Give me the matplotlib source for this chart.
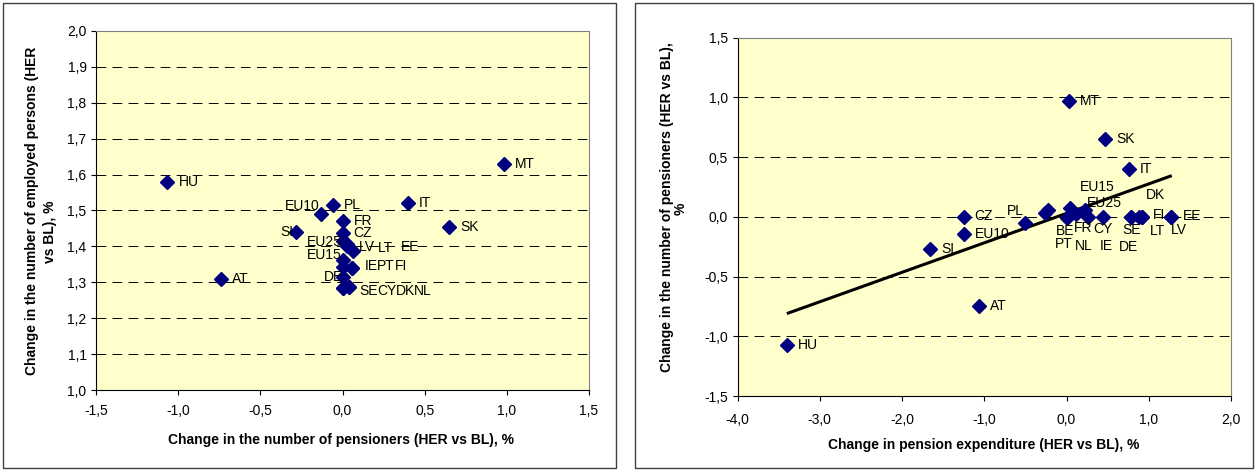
import matplotlib
matplotlib.use("Agg")
import matplotlib.pyplot as plt
from matplotlib.patches import Rectangle
from matplotlib.ticker import FuncFormatter, MultipleLocator

plt.rcParams["font.family"] = ["Liberation Sans", "DejaVu Sans"]
plt.rcParams["font.size"] = 10

# ---- Left panel: pensioners vs employed persons (HER vs BL, %) ----
left_countries = ["HU", "MT", "IT", "SK", "FR", "PL", "EU10", "SI", "CZ", "EU25",
                  "LV", "LT", "EE", "EU15", "IE", "PT", "FI", "DE",
                  "SE", "CY", "DK", "NL", "AT"]
left_pensioners = [-1.07, 0.98, 0.40, 0.65, 0.00, -0.06, -0.13, -0.28, 0.00, 0.00,
                   0.03, 0.065, 0.03, 0.00, 0.00, 0.06, 0.06, 0.00,
                   0.00, 0.04, 0.04, 0.00, -0.74]
left_employed = [1.58, 1.63, 1.52, 1.455, 1.47, 1.515, 1.49, 1.44, 1.436, 1.416,
                 1.408, 1.388, 1.40, 1.362, 1.342, 1.339, 1.339, 1.316,
                 1.283, 1.286, 1.286, 1.283, 1.31]

# ---- Right panel: pension expenditure vs pensioners (HER vs BL, %) ----
right_countries = ["HU", "AT", "SI", "CZ", "EU10", "PL", "MT", "SK", "IT",
                   "EU15", "EU25", "DK", "PT", "BE", "NL", "FR", "CY", "IE",
                   "SE", "DE", "FI", "LT", "LV", "EE"]
right_expenditure = [-3.40, -1.06, -1.66, -1.25, -1.25, -0.51, 0.03, 0.47, 0.76,
                     0.04, 0.22, 0.88, -0.26, -0.22, 0.01, 0.12, 0.26, 0.44,
                     0.79, 0.79, 0.92, 0.92, 1.27, 1.27]
right_pensioners = [-1.07, -0.75, -0.27, 0.00, -0.14, -0.05, 0.97, 0.65, 0.40,
                    0.07, 0.06, 0.00, 0.03, 0.06, -0.01, 0.02, 0.00, 0.00,
                    0.00, 0.00, 0.00, 0.00, 0.00, 0.00]

# linear trend line (end points)
trend_x = [-3.40, 1.28]
trend_y = [-0.81, 0.345]

# label offsets in pixels (dx right, dy up), text left-aligned
left_label_offsets = {
    "HU": (12, 0), "MT": (11, 0), "IT": (11, 0), "SK": (11, 0), "FR": (11, 0),
    "PL": (11, 0), "EU10": (-36, 8), "SI": (-16, 0), "CZ": (11, 0),
    "EU25": (-36, -1), "LV": (11, -3), "LT": (25, 3), "EE": (53, -1),
    "EU15": (-36, 5), "IE": (22, 1), "PT": (25, 2), "FI": (42.5, 2),
    "DE": (-19, 0), "SE": (17, -3), "CY": (28, -4), "DK": (47, -4),
    "NL": (71, -3), "AT": (11, 0),
}
right_label_offsets = {
    "HU": (11, 0), "AT": (11, 0), "SI": (11, 0), "CZ": (11, 1), "EU10": (11, 0),
    "PL": (-18, 12), "MT": (11, 0), "SK": (11, 0), "IT": (11, 0),
    "EU15": (10, 21), "EU25": (2, 7), "DK": (7, 22), "PT": (10, -31),
    "BE": (7, -21), "NL": (8, -28), "FR": (-2, -14), "CY": (5, -12),
    "IE": (-3, -29), "SE": (-9, -13), "DE": (-13, -30), "FI": (11, 2),
    "LT": (8, -14), "LV": (0, -13), "EE": (12, 1),
}

W, H = 1256, 470
fig = plt.figure(figsize=(W / 100, H / 100), dpi=100)
fig.patch.set_facecolor("white")

# chart-area frames
for x0, x1 in [(3, 616), (635, 1253)]:
    fig.patches.append(Rectangle((x0 / W, 2 / H), (x1 - x0) / W, 465 / H,
                                 transform=fig.transFigure, fill=False,
                                 edgecolor="#404040", linewidth=1.0))

def comma_fmt(v, pos):
    return f"{v:.1f}".replace(".", ",")

def style_axes(ax, xpad):
    ax.set_facecolor("#FFFFCC")
    for side in ("top", "right"):
        ax.spines[side].set_color("#808080")
        ax.spines[side].set_linewidth(0.8)
    for side in ("left", "bottom"):
        ax.spines[side].set_color("black")
        ax.spines[side].set_linewidth(0.8)
    ax.xaxis.set_major_formatter(FuncFormatter(comma_fmt))
    ax.yaxis.set_major_formatter(FuncFormatter(comma_fmt))
    ax.tick_params(axis="both", direction="out", length=3.3, width=0.8,
                   labelsize=10, colors="black")
    ax.tick_params(axis="x", pad=xpad)
    ax.tick_params(axis="y", pad=3.5)
    ax.grid(axis="y", color="black", linestyle=(0, (10, 6.5)), linewidth=0.7)
    ax.set_axisbelow(True)

def draw_points(ax, xs, ys, names, offsets):
    ax.plot(xs, ys, linestyle="none", marker="D", markersize=6.8,
            color="#000080", zorder=3, clip_on=False)
    for x, y, n in zip(xs, ys, names):
        dx, dy = offsets[n]
        ax.annotate(n, (x, y), xytext=(dx, dy), textcoords="offset pixels",
                    ha="left", va="center", fontsize=10, color="black",
                    zorder=4)

# left axes
axL = fig.add_axes([96 / W, (H - 390) / H, (589 - 96) / W, (390 - 31) / H])
style_axes(axL, 7)
axL.set_xlim(-1.5, 1.5)
axL.set_ylim(1.0, 2.0)
axL.xaxis.set_major_locator(MultipleLocator(0.5))
axL.yaxis.set_major_locator(MultipleLocator(0.1))
draw_points(axL, left_pensioners, left_employed, left_countries, left_label_offsets)

# right axes
axR = fig.add_axes([737.5 / W, (H - 396) / H, (1231 - 737.5) / W, (396 - 37.7) / H])
style_axes(axR, 9)
axR.set_xlim(-4.0, 2.0)
axR.set_ylim(-1.5, 1.5)
axR.xaxis.set_major_locator(MultipleLocator(1.0))
axR.yaxis.set_major_locator(MultipleLocator(0.5))
axR.plot(trend_x, trend_y, color="black", linewidth=2.2, zorder=2,
         solid_capstyle="butt")
draw_points(axR, right_expenditure, right_pensioners, right_countries,
            right_label_offsets)

# axis titles
bold = dict(fontsize=10, fontweight="bold", color="black")
fig.text(32 / W, 1 - 211 / H, "Change in the number of employed persons (HER",
         rotation=90, ha="center", va="center", **bold)
fig.text(50 / W, 1 - 232 / H, "vs BL), %", rotation=90, ha="center",
         va="center", **bold)
fig.text(341 / W, 1 - 440 / H, "Change in the number of pensioners (HER vs BL), %",
         ha="center", va="center", **bold)

fig.text(667 / W, 1 - 207 / H, "Change in the number of pensioners (HER vs BL),",
         rotation=90, ha="center", va="center", **bold)
fig.text(681 / W, 1 - 209 / H, "%", rotation=90, ha="center", va="center", **bold)
fig.text(984 / W, 1 - 445 / H, "Change in pension expenditure (HER vs BL), %",
         ha="center", va="center", **bold)

fig.savefig("out.png", dpi=100, facecolor="white")
